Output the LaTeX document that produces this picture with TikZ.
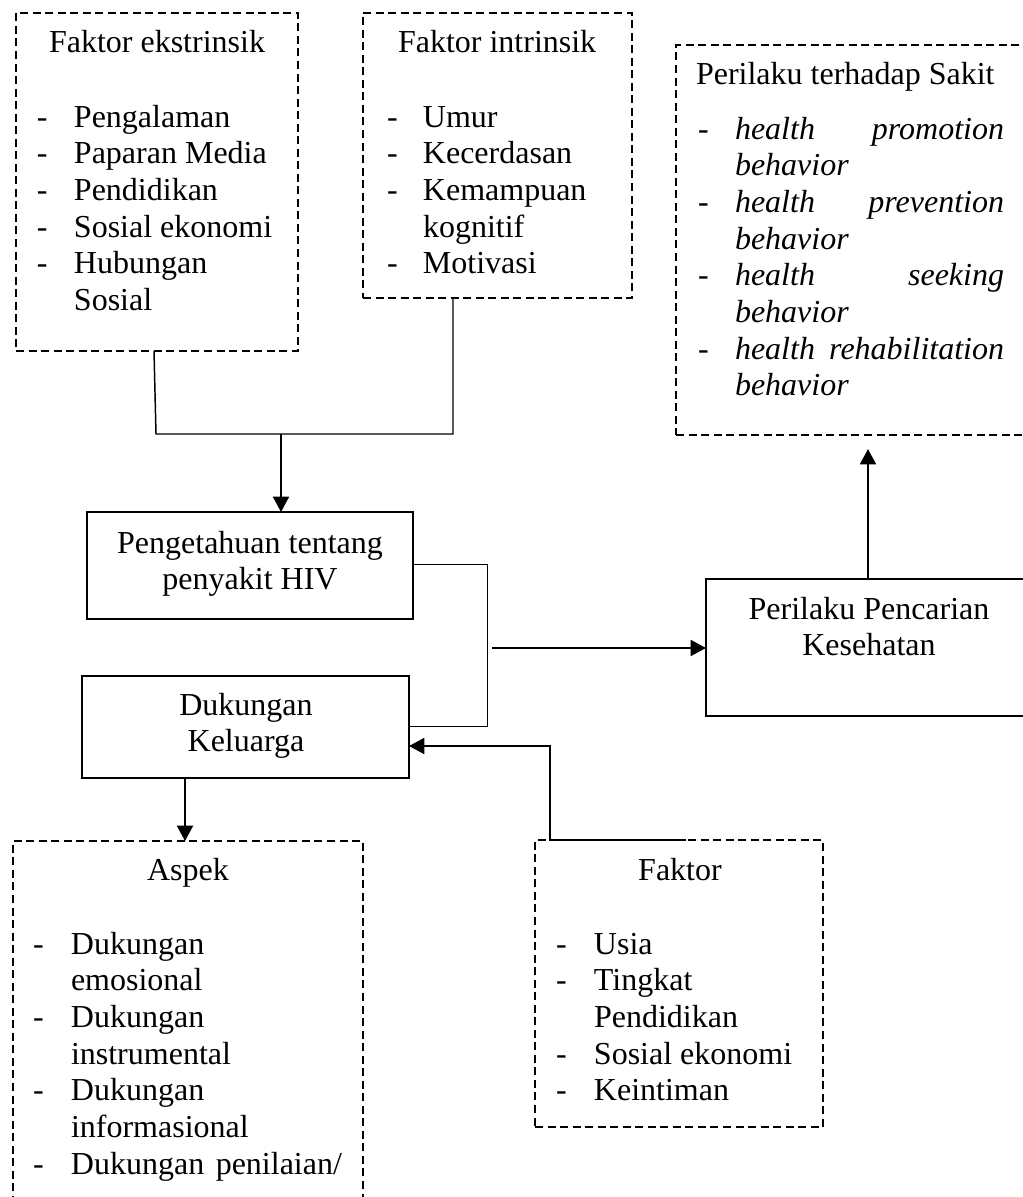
\documentclass[tikz,border=0pt]{standalone}
\usepackage{fontspec}
\setmainfont{Liberation Serif}
\usetikzlibrary{arrows.meta,fit,calc}
\newcommand{\jbox}[2]{\makebox[#1][s]{#2}}
\begin{document}
\begin{tikzpicture}[x=0.375pt,y=-0.375pt,
  bx/.style={draw,line width=0.55pt,inner sep=0pt,outer sep=0pt,rectangle},
  dbx/.style={bx,dash pattern=on 3pt off 1.7pt},
  txt/.style={inner sep=0pt,outer sep=0pt,font=\fontsize{12}{13.76}\selectfont},
  ln/.style={line width=0.55pt},
  thinln/.style={line width=0.35pt},
  arr/.style={line width=0.85pt,-{Triangle[length=5.8pt,width=6pt]}}]
\useasboundingbox (0,0) rectangle (1023,1197);
\fill[white] (0,0) rectangle (1023,1197);
\clip (0,0) rectangle (1023,1197);

% ---------- boxes ----------
\node[dbx, fit={(16,13) (298,351)}] (ext) {};
\node[dbx, fit={(363,13) (632,298)}] (int) {};
\node[dbx, fit={(676,45) (1035,435)}] (sakit) {};
\node[bx, fit={(87,512) (413,619)}] (peng) {};
\node[bx, fit={(82,676) (409,778)}] (duk) {};
\node[bx, fit={(706,579) (1035,716)}] (penc) {};
\node[dbx, fit={(13,841) (363,1215)}] (asp) {};
\node[dbx, fit={(535,840) (823,1127)}] (fak) {};

% ---------- texts ----------
\node[txt,anchor=base west] (ext-t) at (49,52) {Faktor ekstrinsik};
\node[txt,anchor=base west] (ext-l) at (37,127) {\begin{tabular}[t]{@{}p{13.875pt}@{}l@{}}
-&Pengalaman\\ -&Paparan Media\\ -&Pendidikan\\ -&Sosial ekonomi\\ -&Hubungan\\ &Sosial\end{tabular}};

\node[txt,anchor=base west] (int-t) at (398,52) {Faktor intrinsik};
\node[txt,anchor=base west] (int-l) at (387,127) {\begin{tabular}[t]{@{}p{13.5pt}@{}l@{}}
-&Umur\\ -&Kecerdasan\\ -&Kemampuan\\ &kognitif\\ -&Motivasi\end{tabular}};

\node[txt,anchor=base west] (sakit-t) at (696,84) {Perilaku terhadap Sakit};
\node[txt,anchor=base west] (sakit-l) at (698,139) {\begin{tabular}[t]{@{}p{13.875pt}@{}l@{}}
-&\jbox{100.9pt}{\itshape health promotion}\\ &\textit{behavior}\\
-&\jbox{100.9pt}{\itshape health prevention}\\ &\textit{behavior}\\
-&\jbox{100.9pt}{\itshape health seeking}\\ &\textit{behavior}\\
-&\jbox{100.9pt}{\itshape health rehabilitation}\\ &\textit{behavior}\end{tabular}};

\node[txt,anchor=base] (peng-t) at (250,553) {\begin{tabular}[t]{@{}c@{}}Pengetahuan tentang\\ penyakit HIV\end{tabular}};
\node[txt,anchor=base] (duk-t) at (246,715) {\begin{tabular}[t]{@{}c@{}}Dukungan\\ Keluarga\end{tabular}};
\node[txt,anchor=base] (penc-t) at (869,619) {\begin{tabular}[t]{@{}c@{}}Perilaku Pencarian\\ Kesehatan\end{tabular}};

\node[txt,anchor=base] (asp-t) at (188,880) {Aspek};
\node[txt,anchor=base west] (asp-l) at (33,954) {\begin{tabular}[t]{@{}p{14.25pt}@{}l@{}}
-&Dukungan\\ &emosional\\ -&Dukungan\\ &instrumental\\ -&Dukungan\\ &informasional\\ -&\jbox{101.6pt}{Dukungan penilaian/}\end{tabular}};

\node[txt,anchor=base] (fak-t) at (680,880) {Faktor};
\node[txt,anchor=base west] (fak-l) at (556,954) {\begin{tabular}[t]{@{}p{14.25pt}@{}l@{}}
-&Usia\\ -&Tingkat\\ &Pendidikan\\ -&Sosial ekonomi\\ -&Keintiman\end{tabular}};

% ---------- connectors ----------
\coordinate (jn) at (281,434);
\draw[ln] (ext.south -| 154,0) -- (156,434) -| (int.south -| 453,0);
\draw[arr] (jn) -- (peng.north -| jn);

\draw[thinln] (peng.east |- 0,564) -- (487,564) -- (487,726) -- (duk.east |- 0,726);
\coordinate (br) at (492,648);
\draw[arr] (br) -- (penc.west |- br);

\coordinate (sk) at (868,449);
\draw[arr] (penc.north -| sk) -- (sk);

\draw[arr] (fak.north -| 686,0) -| (550,746) -- (duk.east |- 0,746);
\draw[arr] (duk.south -| 185,0) -- (asp.north -| 185,0);
\end{tikzpicture}
\end{document}
